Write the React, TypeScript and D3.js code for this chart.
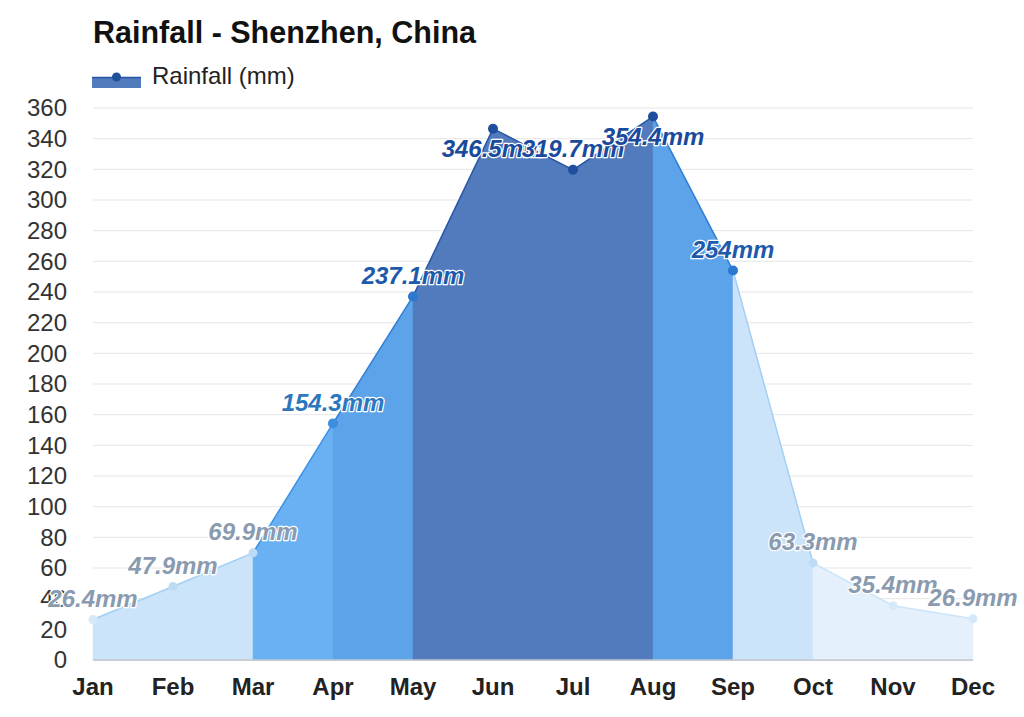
import React from "react";
import * as d3 from "d3";

const months = ["Jan", "Feb", "Mar", "Apr", "May", "Jun", "Jul", "Aug", "Sep", "Oct", "Nov", "Dec"];
const rainfall = [26.4, 47.9, 69.9, 154.3, 237.1, 346.5, 319.7, 354.4, 254, 63.3, 35.4, 26.9];
const yTicks = [0, 20, 40, 60, 80, 100, 120, 140, 160, 180, 200, 220, 240, 260, 280, 300, 320, 340, 360];
const title = "Rainfall - Shenzhen, China";
const legendLabel = "Rainfall (mm)";

const W = 1024;
const H = 717;
const FONT = "Arial, 'Liberation Sans', Helvetica, sans-serif";

function style(v: number) {
  if (v >= 300) return { area: "#527bbd", line: "#2856a6", dot: "#1f4e9c", label: "#1a4a9c" };
  if (v >= 200) return { area: "#5da3e9", line: "#2f7fd4", dot: "#2a78d0", label: "#1e5aab" };
  if (v >= 100) return { area: "#69b1f3", line: "#3b92e4", dot: "#3a8fe0", label: "#2d77bf" };
  if (v >= 40) return { area: "#cce4f9", line: "#a3cff3", dot: "#bcdcf6", label: "#8a9bb0" };
  return { area: "#e4f1fc", line: "#cbe4f8", dot: "#d5e9fa", label: "#8a9bb0" };
}

export default function App() {
  const x = d3.scalePoint<string>().domain(months).range([93, 973]);
  const y = d3.scaleLinear().domain([0, 360]).range([660, 108]);
  const pts = months.map((m, i) => ({ m, v: rainfall[i], x: x(m) as number, y: y(rainfall[i]) }));
  const area = d3
    .area<{ x: number; y: number }>()
    .x((d) => d.x)
    .y0(y(0))
    .y1((d) => d.y);
  const line = d3
    .line<{ x: number; y: number }>()
    .x((d) => d.x)
    .y((d) => d.y);

  const segs = pts.slice(1).map((p, i) => ({ a: pts[i], b: p, s: style(p.v) }));

  return (
    <svg width={W} height={H} style={{ position: "absolute", left: 0, top: 0, background: "#fff" }} fontFamily={FONT}>
      <rect width={W} height={H} fill="#fff" />
      <text x={93} y={43} fontSize={30.5} fontWeight="bold" fill="#111">
        {title}
      </text>
      {/* legend */}
      <rect x={92} y={77} width={49} height={11} fill="#527bbd" />
      <line x1={92} x2={141} y1={77.5} y2={77.5} stroke="#2856a6" strokeWidth={1.5} />
      <circle cx={116.5} cy={77} r={4.5} fill="#1f4e9c" />
      <text x={152} y={84} fontSize={24} fill="#222">
        {legendLabel}
      </text>
      {/* grid */}
      {yTicks.map((t) => (
        <g key={t}>
          <line x1={93} x2={973} y1={y(t)} y2={y(t)} stroke={t === 0 ? "#c6c9cf" : "#e6e6e6"} strokeWidth={t === 0 ? 1.5 : 1} />
          <text x={67} y={y(t)} dy="0.35em" textAnchor="end" fontSize={24} fill="#333">
            {t}
          </text>
        </g>
      ))}
      {/* areas */}
      {segs.map((sg, i) => (
        <path key={"a" + i} d={area([sg.a, sg.b]) as string} fill={sg.s.area} stroke={sg.s.area} strokeWidth={0.5} />
      ))}
      {segs.map((sg, i) => (
        <path key={"l" + i} d={line([sg.a, sg.b]) as string} fill="none" stroke={sg.s.line} strokeWidth={1.5} />
      ))}
      <line x1={93} x2={973} y1={y(0)} y2={y(0)} stroke="#c6c9cf" strokeWidth={1.5} />
      {/* points */}
      {pts.map((p) => (
        <circle key={"p" + p.m} cx={p.x} cy={p.y} r={p.v >= 100 ? 5 : 4.5} fill={style(p.v).dot} />
      ))}
      {/* x labels */}
      {pts.map((p) => (
        <text key={"x" + p.m} x={p.x} y={695} textAnchor="middle" fontSize={24} fontWeight="bold" fill="#222">
          {p.m}
        </text>
      ))}
      {/* data labels */}
      {pts.map((p) => (
        <text
          key={"d" + p.m}
          x={p.x}
          y={p.v > 340 ? p.y + 28 : p.y - 12.5}
          textAnchor="middle"
          fontSize={24}
          fontWeight="bold"
          fontStyle="italic"
          fill={style(p.v).label}
          stroke="#fff"
          strokeWidth={2.5}
          strokeLinejoin="round"
          style={{ paintOrder: "stroke" }}
        >
          {p.v + "mm"}
        </text>
      ))}
    </svg>
  );
}
